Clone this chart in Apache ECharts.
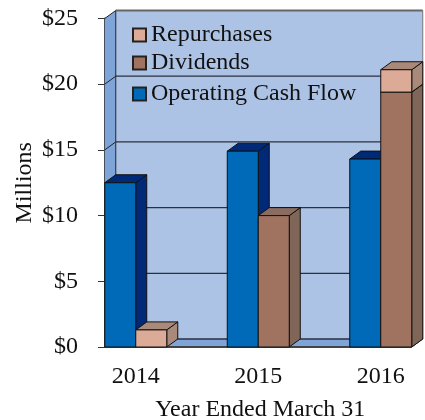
<!DOCTYPE html>
<html>
<head>
<meta charset="utf-8">
<style>html,body{margin:0;padding:0;background:#fff}#c{width:425px;height:420px}</style>
<script src="https://cdn.jsdelivr.net/npm/echarts@6/dist/echarts.min.js"></script>
</head>
<body>
<div id="c"></div>
<script>
var categories = ['2014', '2015', '2016'];
var operatingCashFlow = [12.5, 14.9, 14.3];
var dividends = [0, 10.0, 19.4];
var repurchases = [1.3, 0, 1.7];
var yTicks = [0, 5, 10, 15, 20, 25];

var FONT = '"Liberation Serif","Times New Roman",serif';
var DX = 11, DY = -8, SLOT_RATIO = 31 / 122.5;
var LINE = '#111';

function poly(points, fill, stroke, w) {
  return { type: 'polygon', shape: { points: points },
    style: { fill: fill, stroke: stroke === undefined ? LINE : stroke, lineWidth: w === undefined ? 1 : w } };
}
function box(api, cat, slotIdx, base, top, colors) {
  var c = api.coord([cat, 0]);
  var slot = api.size([1, 0])[0] * SLOT_RATIO;
  var xl = c[0] + (slotIdx - 1) * slot, xr = xl + slot;
  var yb = api.coord([cat, base])[1], yt = api.coord([cat, top])[1];
  return { type: 'group', children: [
    poly([[xr, yb], [xr + DX, yb + DY], [xr + DX, yt + DY], [xr, yt]], colors.side),
    poly([[xl, yt], [xl + DX, yt + DY], [xr + DX, yt + DY], [xr, yt]], colors.top),
    poly([[xl, yb], [xr, yb], [xr, yt], [xl, yt]], colors.front)
  ] };
}
function series(name, front, values, bases, slotIdx, colors) {
  return {
    type: 'custom', name: name, z: 3,
    itemStyle: { color: front, borderColor: '#222', borderWidth: 1 },
    data: values.map(function (v, i) { return [i, bases[i], bases[i] + v]; }),
    encode: { x: 0, y: 2 },
    renderItem: function (params, api) {
      if (api.value(2) <= api.value(1)) return null;
      return box(api, api.value(0), slotIdx, api.value(1), api.value(2), colors);
    }
  };
}
function legendAt(name, top) {
  return {
    data: [{ name: name, icon: 'rect' }], left: 132, top: top, orient: 'horizontal',
    itemWidth: 13, itemHeight: 13, itemGap: 4, padding: 0,
    textStyle: { fontFamily: FONT, fontSize: 24, color: '#111', padding: [0, 0, 0, 0] }
  };
}

var chart = echarts.init(document.getElementById('c'), null, { renderer: 'canvas' });
chart.setOption({
  animation: false,
  backgroundColor: '#fff',
  grid: { left: 74.5, top: 18.5, width: 367.5, height: 328.5, outerBoundsMode: 'none' },
  legend: [legendAt('Repurchases', 23), legendAt('Dividends', 51), legendAt('Operating Cash Flow', 82)],
  xAxis: {
    type: 'category', data: categories, boundaryGap: true,
    axisLine: { show: false }, axisTick: { show: false }, splitLine: { show: false },
    axisLabel: { fontFamily: FONT, fontSize: 24, color: '#111', margin: 18 },
    name: 'Year Ended March 31', nameLocation: 'middle', nameGap: 51,
    nameTextStyle: { fontFamily: FONT, fontSize: 24, color: '#111', padding: [0, 0, 0, 4] }
  },
  yAxis: {
    type: 'value', min: 0, max: 25, interval: 5, offset: -30.5,
    axisLine: { show: true, lineStyle: { color: '#333', width: 2 } },
    axisTick: { show: true, length: 7, lineStyle: { color: '#333', width: 1 } },
    splitLine: { show: false },
    axisLabel: { fontFamily: FONT, fontSize: 24, color: '#111', margin: 27,
      formatter: function (v) { return '$' + v; } },
    name: 'Millions', nameLocation: 'middle', nameGap: 68, nameRotate: 90, nameMoveOverlap: false,
    nameTextStyle: { fontFamily: FONT, fontSize: 24, color: '#111' }
  },
  series: [
    {
      type: 'custom', name: 'walls', z: 1, silent: true,
      data: yTicks.map(function (t, i) { return [0, t, i]; }),
      encode: { x: 0, y: 1 },
      renderItem: function (params, api) {
        var c0 = api.coord([0, 0]), c2 = api.coord([2, 0]);
        var slot = api.size([1, 0])[0] * SLOT_RATIO;
        var left = c0[0] - slot, right = c2[0] + slot;
        var t = api.value(1), y = api.coord([0, t])[1];
        var ch = [];
        if (api.value(2) === 0) {
          var yTop = api.coord([0, 25])[1];
          ch.push(poly([[left + DX, y + DY], [right + DX, y + DY], [right + DX, yTop + DY], [left + DX, yTop + DY]], '#adc3e5', 'none'));
          ch.push(poly([[left, y], [left + DX, y + DY], [left + DX, yTop + DY], [left, yTop]], '#7fa5d8', 'none'));
          ch.push(poly([[left, y], [right, y], [right + DX, y + DY], [left + DX, y + DY]], '#7fa5d8', 'none'));
          ch.push({ type: 'line', shape: { x1: left, y1: y, x2: right, y2: y }, style: { stroke: '#444', lineWidth: 2 } });
          ch.push({ type: 'line', shape: { x1: right, y1: y, x2: right + DX, y2: y + DY }, style: { stroke: '#333', lineWidth: 1 } });
          ch.push({ type: 'line', shape: { x1: left + DX, y1: y + DY, x2: left + DX, y2: yTop + DY }, style: { stroke: '#222', lineWidth: 1 } });
          ch.push({ type: 'line', shape: { x1: right + DX, y1: y + DY, x2: right + DX, y2: yTop + DY }, style: { stroke: '#777', lineWidth: 1 } });
        }
        var stroke = t === 25 ? '#666' : '#2b3040';
        ch.push({ type: 'line', shape: { x1: left + DX, y1: y + DY, x2: right + DX, y2: y + DY }, style: { stroke: stroke, lineWidth: t === 25 ? 2 : 1.3 } });
        ch.push({ type: 'line', shape: { x1: left, y1: y, x2: left + DX, y2: y + DY }, style: { stroke: '#222', lineWidth: 1 } });
        return { type: 'group', children: ch };
      }
    },
    series('Operating Cash Flow', '#006ab8', operatingCashFlow, [0, 0, 0], 0,
      { front: '#006ab8', top: '#002a78', side: '#002a78' }),
    series('Dividends', '#a07361', dividends, [0, 0, 0], 1,
      { front: '#a07361', top: '#8a6d60', side: '#806659' }),
    series('Repurchases', '#dcab98', repurchases, dividends, 1,
      { front: '#dcab98', top: '#a98a7a', side: '#a98a7a' })
  ]
});
</script>
</body>
</html>
